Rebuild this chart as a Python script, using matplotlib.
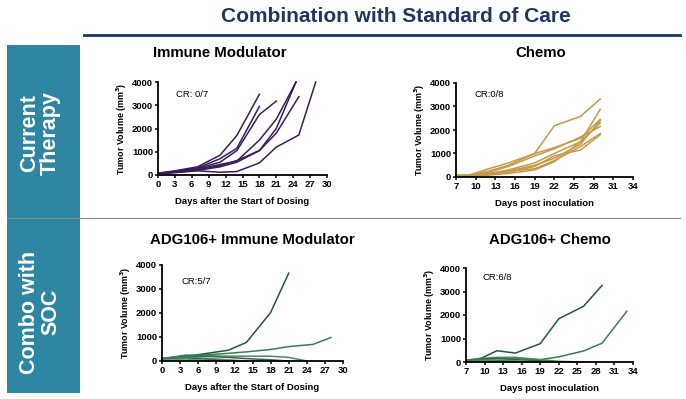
import matplotlib.pyplot as plt
from matplotlib.patches import Rectangle
from matplotlib.lines import Line2D

plt.rcParams['font.family'] = ['Liberation Sans', 'DejaVu Sans']

W, H = 686, 399

# ── Data ────────────────────────────────────────────────────────────
im_days = [
    [0, 3, 7, 11, 14, 18],
    [0, 3, 7, 11, 14, 18],
    [0, 3, 7, 11, 14, 18, 21],
    [0, 3, 7, 11, 14, 18, 21, 24.5],
    [0, 3, 7, 11, 14, 18, 21, 24.5],
    [0, 3, 7, 11, 14, 18, 21, 25],
    [0, 3, 7, 11, 14, 18, 21, 25, 28],
]
im_vol = [
    [80, 180, 350, 850, 1700, 3470],
    [70, 160, 300, 700, 1150, 2950],
    [60, 150, 280, 550, 1050, 2600, 3180],
    [70, 140, 250, 450, 600, 1500, 2400, 4000],
    [60, 130, 220, 400, 620, 1050, 2000, 4000],
    [50, 120, 200, 350, 550, 1050, 1800, 3370],
    [50, 100, 180, 120, 150, 520, 1200, 1720, 4000],
]

chemo_days = [7, 9, 12, 15, 19, 22, 26, 29]
chemo_vol = [
    [80, 60, 250, 500, 1000, 2180, 2580, 3320],
    [70, 80, 350, 600, 1000, 1250, 1650, 2450],
    [60, 70, 200, 450, 900, 1200, 1700, 2150],
    [50, 60, 150, 300, 600, 1000, 1500, 2880],
    [60, 50, 120, 250, 500, 800, 1400, 2400],
    [50, 60, 100, 250, 350, 700, 1300, 1850],
    [40, 50, 150, 200, 450, 900, 1150, 1800],
    [50, 40, 80, 150, 300, 650, 1500, 2300],
]

combo_im_days = [
    [0, 4, 7, 11, 14, 18, 21],
    [0, 4, 7, 11, 14, 18, 21, 25, 28],
    [0, 4, 7, 11, 14, 18, 21, 24],
    [0, 4, 7, 11, 14, 18, 21],
    [0, 4, 7, 11, 14],
    [0, 4, 7, 11],
    [0, 4, 7, 11],
]
combo_im_vol = [
    [100, 200, 300, 450, 775, 2020, 3660],
    [100, 220, 250, 320, 380, 480, 600, 690, 980],
    [100, 250, 220, 200, 200, 200, 150, 0],
    [80, 200, 200, 150, 100, 50, 0],
    [60, 150, 120, 50, 0],
    [50, 120, 80, 0],
    [40, 80, 30, 0],
]

combo_ch_days = [
    [7, 9, 12, 15, 19, 22, 26, 29],
    [7, 9, 12, 15, 19, 22, 26, 29, 33],
    [7, 9, 12, 15, 19, 22, 26],
    [7, 9, 12, 15, 19, 22],
    [7, 9, 12, 15, 19],
    [7, 9, 12, 15],
    [7, 9, 12, 15],
    [7, 9, 12],
]
combo_ch_vol = [
    [70, 100, 480, 380, 780, 1840, 2370, 3260],
    [70, 100, 150, 150, 100, 220, 470, 800, 2160],
    [80, 150, 200, 200, 100, 30, 0],
    [60, 120, 150, 100, 50, 0],
    [50, 100, 80, 50, 0],
    [60, 80, 50, 0],
    [40, 60, 30, 0],
    [50, 40, 0],
]

PURPLE = '#3b1c58'
TAN = '#c4994a'
GREENS = ['#1f5a33', '#3f7a55', '#4f8a64', '#2f6a44', '#5d946f', '#2a6640', '#6a9e7b', '#3a7550']
TEAL = '#2f86a2'
NAVY = '#1c3766'


def px_axes(fig, x0, x1, ytop, ybot):
    return fig.add_axes([x0 / W, 1 - ybot / H, (x1 - x0) / W, (ybot - ytop) / H])


def style_axes(ax, xticks, xlabel):
    ax.set_ylim(0, 4000)
    ax.set_xlim(xticks[0], xticks[-1])
    ax.set_xticks(xticks)
    ax.set_yticks([0, 1000, 2000, 3000, 4000])
    for s in ['top', 'right']:
        ax.spines[s].set_visible(False)
    for s in ['left', 'bottom']:
        ax.spines[s].set_linewidth(1.3)
    ax.tick_params(axis='both', labelsize=6.8, width=1.1, length=2.5, pad=1)
    for lab in ax.get_xticklabels() + ax.get_yticklabels():
        lab.set_fontweight('bold')
    ax.set_xlabel(xlabel, fontsize=6.8, fontweight='bold', labelpad=6)
    ax.set_ylabel('Tumor Volume (mm$^\\mathbf{3}$)', fontsize=6.4, fontweight='bold', labelpad=2)
    ax.patch.set_alpha(0)


fig = plt.figure(figsize=(W / 100, H / 100), dpi=100)

# header
fig.text(396 / W, 1 - 17 / H, 'Combination with Standard of Care', ha='center', va='center',
         fontsize=15, fontweight='bold', color=NAVY)
fig.add_artist(Line2D([84 / W, 680 / W], [1 - 35 / H, 1 - 35 / H], color=NAVY, lw=2))

# left row labels
fig.add_artist(Rectangle((7 / W, 1 - 393 / H), 73 / W, 348 / H, color=TEAL, lw=0))
fig.add_artist(Line2D([7 / W, 680 / W], [1 - 218 / H, 1 - 218 / H], color='#8a8a8a', lw=0.8))
fig.text(40 / W, 1 - 133 / H, 'Current\nTherapy', rotation=90, ha='center', va='center',
         fontsize=15.5, fontweight='bold', color='white', linespacing=1.0)
fig.text(40 / W, 1 - 312 / H, 'Combo with\nSOC', rotation=90, ha='center', va='center',
         fontsize=15.5, fontweight='bold', color='white', linespacing=1.0)

# panel titles
for x, y, t in [(220, 53, 'Immune Modulator'), (541, 53, 'Chemo'),
                (252, 240, 'ADG106+ Immune Modulator'), (550, 240, 'ADG106+ Chemo')]:
    fig.text(x / W, 1 - y / H, t, ha='center', va='center', fontsize=10.8, fontweight='bold')

# ── Panel 1: Immune Modulator ─────────────────────────────────────
ax1 = px_axes(fig, 158, 327, 82, 175)
for d, v in zip(im_days, im_vol):
    ax1.plot(d, v, color=PURPLE, lw=1.1, clip_on=False)
style_axes(ax1, list(range(0, 31, 3)), 'Days after the Start of Dosing')
ax1.text(3.2, 3450, 'CR: 0/7', fontsize=6.8, va='center')

# ── Panel 2: Chemo ─────────────────────────────────────────────────
ax2 = px_axes(fig, 456, 633, 83, 177)
for v in chemo_vol:
    ax2.plot(chemo_days, v, color=TAN, lw=1.1, clip_on=False)
style_axes(ax2, list(range(7, 35, 3)), 'Days post inoculation')
ax2.text(9.8, 3500, 'CR:0/8', fontsize=6.8, va='center')

# ── Panel 3: ADG106 + Immune Modulator ───────────────────────────────
ax3 = px_axes(fig, 162, 343, 265, 361)
for i, (d, v) in enumerate(zip(combo_im_days, combo_im_vol)):
    ax3.plot(d, v, color=GREENS[i], lw=1.1, clip_on=False)
style_axes(ax3, list(range(0, 31, 3)), 'Days after the Start of Dosing')
ax3.text(3.2, 3300, 'CR:5/7', fontsize=6.8, va='center')

# ── Panel 4: ADG106 + Chemo ────────────────────────────────────────
ax4 = px_axes(fig, 466, 633, 268, 362)
for i, (d, v) in enumerate(zip(combo_ch_days, combo_ch_vol)):
    ax4.plot(d, v, color=GREENS[i], lw=1.1, clip_on=False)
style_axes(ax4, list(range(7, 35, 3)), 'Days post inoculation')
ax4.text(9.6, 3600, 'CR:6/8', fontsize=6.8, va='center')

fig.savefig('out.png', dpi=100)
